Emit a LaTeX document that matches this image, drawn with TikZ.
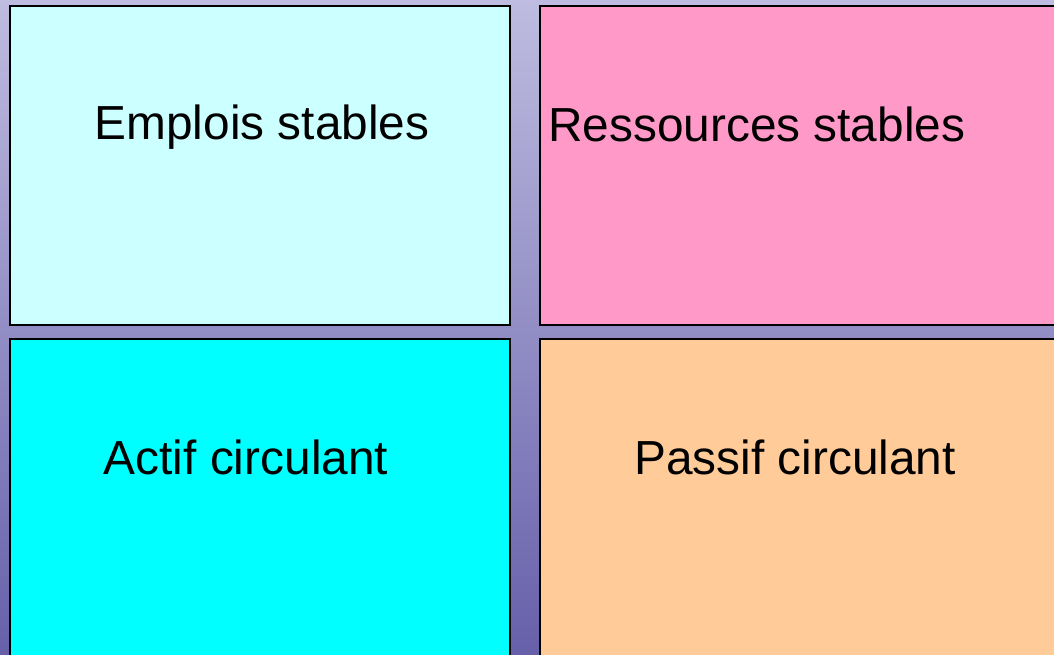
\documentclass[tikz,border=0pt]{standalone}
\usepackage{fontspec}
\setmainfont{Liberation Sans}
\definecolor{bgtop}{HTML}{BEBCE0}
\definecolor{bgbot}{HTML}{6660AA}
\definecolor{c1}{HTML}{CCFFFF}
\definecolor{c2}{HTML}{FF99C8}
\definecolor{c3}{HTML}{00FFFF}
\definecolor{c4}{HTML}{FFCC99}
\begin{document}
\begin{tikzpicture}[x=1pt,y=-1pt,
  panel/.style={draw=black,line width=1.6pt},
  lbl/.style={font=\fontsize{47.8}{54}\selectfont,text=black,inner sep=0pt}]
\useasboundingbox (0,0) rectangle (1054,654);
\shade[top color=bgtop,bottom color=bgbot] (0,0) rectangle (1054,654);
\begin{scope}
\clip (0,0) rectangle (1054,654);
\draw[panel,fill=c1] (10,6) rectangle (510,325);
\draw[panel,fill=c2] (540,6) rectangle (1070,325);
\draw[panel,fill=c3] (10,339) rectangle (510,670);
\draw[panel,fill=c4] (540,339) rectangle (1070,670);
\end{scope}
\node[lbl] (a) at (262,127) {Emplois stables};
\node[lbl,anchor=west] (b) at (548,124) {Ressources stables};
\node[lbl] (c) at (246,457) {Actif circulant};
\node[lbl] (d) at (795,457) {Passif circulant};
\end{tikzpicture}
\end{document}
